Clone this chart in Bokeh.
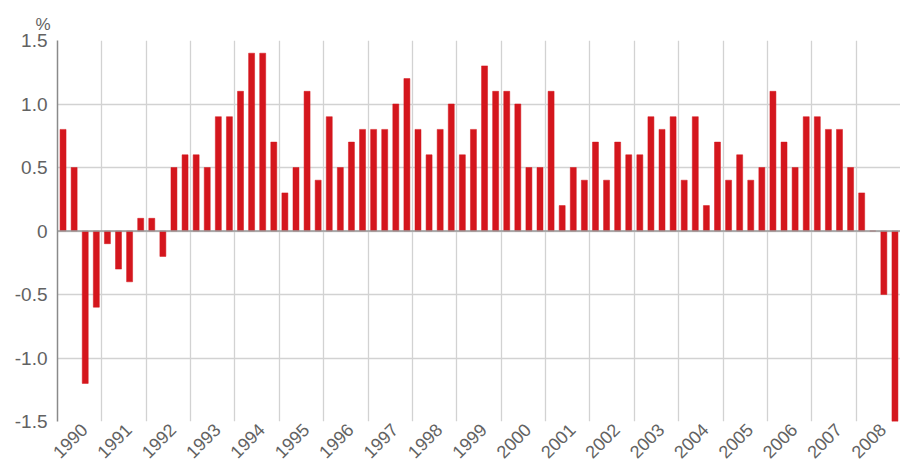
import math
from bokeh.plotting import figure
from bokeh.models import FixedTicker, Span, ColumnDataSource, Range1d
from bokeh.embed import file_html
from bokeh.resources import INLINE

years = list(range(1990, 2009))
quarters = [1, 2, 3, 4]
growth = [
    0.8, 0.5, -1.2, -0.6,   # 1990
    -0.1, -0.3, -0.4, 0.1,  # 1991
    0.1, -0.2, 0.5, 0.6,    # 1992
    0.6, 0.5, 0.9, 0.9,     # 1993
    1.1, 1.4, 1.4, 0.7,     # 1994
    0.3, 0.5, 1.1, 0.4,     # 1995
    0.9, 0.5, 0.7, 0.8,     # 1996
    0.8, 0.8, 1.0, 1.2,     # 1997
    0.8, 0.6, 0.8, 1.0,     # 1998
    0.6, 0.8, 1.3, 1.1,     # 1999
    1.1, 1.0, 0.5, 0.5,     # 2000
    1.1, 0.2, 0.5, 0.4,     # 2001
    0.7, 0.4, 0.7, 0.6,     # 2002
    0.6, 0.9, 0.8, 0.9,     # 2003
    0.4, 0.9, 0.2, 0.7,     # 2004
    0.4, 0.6, 0.4, 0.5,     # 2005
    1.1, 0.7, 0.5, 0.9,     # 2006
    0.9, 0.8, 0.8, 0.5,     # 2007
    0.3, 0.0, -0.5, -1.5,   # 2008
]
year_labels = [str(y) for y in years]
y_ticks = [-1.5, -1.0, -0.5, 0, 0.5, 1.0, 1.5]
y_tick_labels = ["-1.5", "-1.0", "-0.5", "0", "0.5", "1.0", "1.5"]
unit_label = "%"

xs = [y + (q - 0.5) / 4 for y in years for q in quarters]
src = ColumnDataSource(dict(x=xs, top=growth))

FONT = "Liberation Sans"
TXT = "#626262"
RED = "#d4161d"
GRID = "#d2d2d2"

p = figure(width=900, height=467, output_backend="svg", toolbar_location=None,
           x_range=Range1d(1990, 2009), y_range=Range1d(-1.5, 1.5),
           min_border_left=57, min_border_right=0, min_border_top=40, min_border_bottom=44)
p.outline_line_color = None
p.background_fill_color = "white"
p.border_fill_color = "white"

# "%" unit marker above the value axis
p.title.text = unit_label
p.title.align = "left"
p.title.offset = -22
p.title.standoff = 14
p.title.text_font = FONT
p.title.text_font_size = "17px"
p.title.text_font_style = "normal"
p.title.text_color = TXT

p.vbar(x="x", top="top", bottom=0, width=0.135, source=src,
       fill_color=RED, line_color=RED, line_width=0.5)

# grids
p.xgrid.ticker = FixedTicker(ticks=list(range(1990, 2010)))
p.xgrid.grid_line_color = GRID
p.xgrid.grid_line_width = 1.3
p.ygrid.ticker = FixedTicker(ticks=y_ticks)
p.ygrid.grid_line_color = GRID
p.ygrid.grid_line_width = 1.3

# y axis
p.yaxis.ticker = FixedTicker(ticks=y_ticks)
p.yaxis.major_label_overrides = {t: l for t, l in zip(y_ticks, y_tick_labels)}
p.yaxis.axis_line_color = "#8a8a8a"
p.yaxis.axis_line_width = 1.5
p.yaxis.major_tick_line_color = None
p.yaxis.major_tick_out = 0
p.yaxis.major_tick_in = 0
p.yaxis.minor_tick_line_color = None
p.yaxis.major_label_standoff = 10
p.yaxis.major_label_text_font = FONT
p.yaxis.major_label_text_font_size = "19px"
p.yaxis.major_label_text_color = TXT

# x axis
label_pos = [y + 0.6 for y in years]
p.xaxis.ticker = FixedTicker(ticks=label_pos)
p.xaxis.major_label_overrides = {t: l for t, l in zip(label_pos, year_labels)}
p.xaxis.major_label_orientation = math.pi / 4
p.xaxis.axis_line_color = None
p.xaxis.major_tick_line_color = None
p.xaxis.major_tick_out = 0
p.xaxis.major_tick_in = 0
p.xaxis.minor_tick_line_color = None
p.xaxis.major_label_standoff = 5
p.xaxis.major_label_text_font = FONT
p.xaxis.major_label_text_font_size = "18px"
p.xaxis.major_label_text_color = TXT

# zero line
p.add_layout(Span(location=0, dimension="width", line_color="#9a9a9a", line_width=1.6))

open("out.html", "w").write(file_html(p, INLINE))
